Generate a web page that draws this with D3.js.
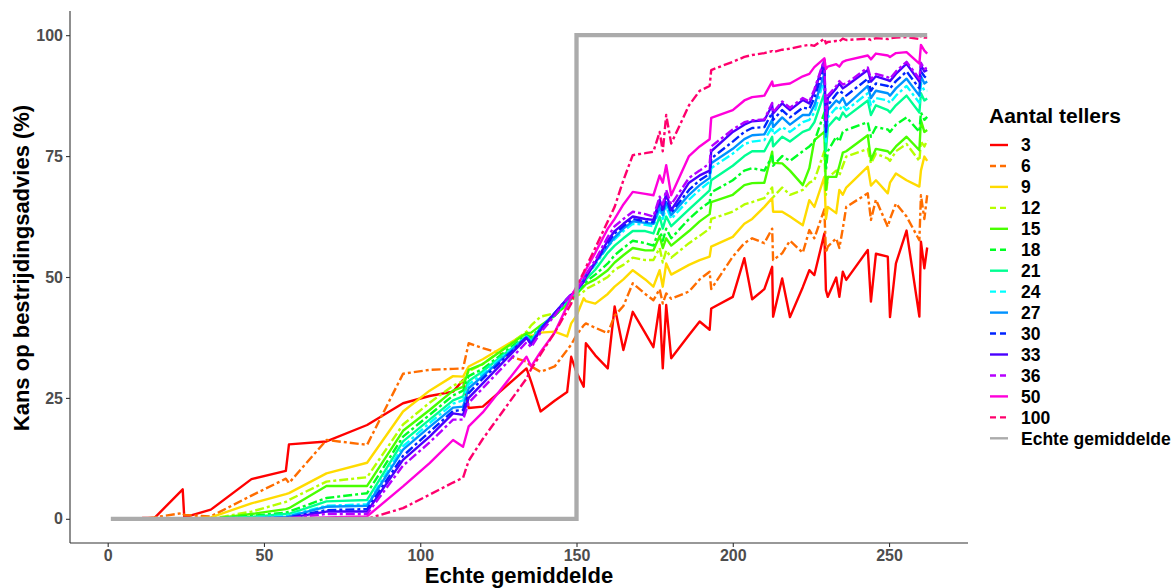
<!DOCTYPE html>
<html><head><meta charset="utf-8">
<script src="https://cdn.jsdelivr.net/npm/d3@7"></script>
<style>body{margin:0;background:#fff;} text{font-family:"Liberation Sans",Arial,sans-serif;}</style>
</head><body>
<svg id="chart" width="1172" height="588"></svg>
<script>
const xs = [11,15,24,24.5,33, 46,57,58,70,83, 94.5,103,110.5,113.7,115.5, 120,134,135.5,138.5,143, 147,148.3,150,152.3,153, 156,160,162.2,165,168, 172,174.6,176.6,177.6,178.7, 180.3,186,189.4,192.6,193.1, 200,203.7,206.2,210.1,212.6, 212.9,215.8,218.3,222.4,224.5, 226.1,229.3,229.8,230.4,233.1, 234.1,235.2,236.3,243.2,244.2, 245.8,249.6,250.3,252.2,255.6, 259.7,260.2,261.3,262.2];

const s3 = [0.2,0.2,6.1,0.3,1.9, 8.2,9.9,15.4,16,19.4, 23.9,25.4,26.3,28.7,22.9, 23.2,31.1,28.3,22.2,24.4, 26.2,33.5,30.3,27.3,36.3, 33.8,31.1,43.9,34.9,42.8, 38.4,35.5,44.2,31.1,44.2, 33.2,38,40.8,39.1,43.5, 45.9,53.9,45.4,47.5,52.1, 41.8,49.7,41.7,47.9,51.4, 50.4,59,47.3,45.9,49.9, 45.9,51.1,49.4,55.6,44.9, 54.8,54.2,41.7,52.8,59.6, 41.8,57.3,51.8,56.1];
const s6 = [0,0.3,1.2,0.8,0.5, 4.8,8.3,7.4,16.3,15.3, 30,30.8,31,31.1,36.3, 35.3,32.5,31.5,30.4,31.5, 34.9,36,38,40,40.4, 39.5,38.4,42,44,48.7, 46.5,45.2,47.5,44.5,46.6, 45.5,47,49.5,51.1,47.5, 54.2,57,58,57,60, 53.5,54.9,57.5,55,59.7, 58,64,55,56.3,58, 56,60,64.5,67.3,61.8, 66,60.4,62,65.2,62.5, 57.6,66.9,62,66.9];
const s9 = [0,0,0,0,0.3, 3.2,5.1,5.3,9.4,11.6, 22.2,26.5,29.5,29.4,31.5, 33,38.4,37.8,38.5,38.7, 37.7,40.4,42,45.6,45, 44.5,46.5,48,49.5,51.4, 49.5,48,51.4,48,52.8, 50.5,52.5,53.5,54.2,56.3, 58.3,61,62,64.5,66.3, 63.5,63.5,62.5,60.7,65.9, 64.5,70.7,62,64.5,63.2, 68,67,68.5,72.8,68.9, 70,67.3,69.5,71.4,70, 68.7,72,74.9,74];
const s12 = [0,0,0,0,0, 1.5,3.5,3.9,7.7,8.6, 19.5,24,27.5,28.5,30.5, 32,38.7,40,41.8,42.5, 44,45,46,47,47.5, 48.5,50,51.5,52.5,54, 53.5,53.5,56,53,55.5, 54,57,58.5,60,62, 63.5,65,65.5,66.3,68.5, 66.5,68.5,67,68,69.5, 70,76,67,70.5,72, 71,73,74.9,76.5,73.5, 75.5,74.5,74,76,77.5, 74,78,77,78.3];
const s15 = [0,0,0,0,0, 1,2,2.2,6.8,6.8, 18.2,22.5,26.5,27.3,30.8, 32,38.4,38.5,40,42, 44.5,45.5,46.5,48,48.5, 49.5,51.4,53,54.5,56, 55.5,55.5,58.5,56,58, 56.5,59.5,61.5,63,65.5, 67,69,69.4,69.5,75.9, 73.6,73.5,72,69,72.5, 78.3,80,68,70.7,70.7, 73,75.7,76,79.3,74.2, 76.5,76,75.5,77,79, 76.2,82.4,80,80.4];
const s18 = [0,0,0,0,0, 0.6,1.3,1.5,4.3,5.3, 17,21.5,25.5,26.5,29.5, 31,38,37.5,39.5,42, 44.5,45.5,46.5,48.5,49, 50.5,52.8,54.5,56,57.5, 57,56.5,60,57.5,60, 58,62,64,65.5,67.5, 70,72,72.5,72,75, 73,75,74,76,77, 78,84,72,76,79, 78,80,80.4,82,79, 81,80.5,80,81.5,83, 80,84,82.5,83.1];
const s21 = [0,0,0,0,0, 0.4,1,1,3.6,3.9, 16,20.5,24.5,25.3,28.5, 30.5,37.7,37,39.5,42.3, 45,46,46.8,49,49.5, 51.5,55,56.5,58,59.5, 59.5,59,62.5,60,62.5, 60.5,64,66,67.9,70, 73,75,76,76,79, 77,79,78,80,80.5, 82,88,76,81,83, 82.5,84,83.1,86.5,83.5, 85.5,84.5,84,85.5,87.5, 84,88,86.5,86.9];
const s24 = [0,0,0,0,0, 0.2,0.6,0.7,2.7,3, 15,19.8,23.8,24.5,27.8, 30,37.7,36.8,39.5,42.5, 45.2,46.2,47,49.5,50.2, 52.5,56.3,57.8,59.5,61, 60.8,60.5,64,62,64.5, 62,66,68,69.7,72.5, 75.5,77.5,78,78.3,81, 79.5,81,80,82,82.5, 84,91,78,83,85, 84.5,85.5,84.5,88,85.5, 87,86.5,86,87.5,89.5, 86,90,88.5,88.5];
const s27 = [0,0,0,0,0, 0.1,0.4,0.5,2.5,2.7, 14.3,19,23,23.2,27, 29.5,37.6,36.5,39.5,42.5, 45.5,46.3,47,49.5,50.5, 53,56.3,58.2,60,61.5, 61.2,61,64.5,62.8,65.5, 62.8,67,69,70.5,73.5, 76.5,78.5,79.3,79.5,82.5, 81,83,81.5,83.5,83.5, 85.5,92,79,84.5,86.5, 86,87,85.5,89.5,87, 88.5,88,87.5,89,91, 87.5,91.5,90,90.4];
const s30 = [0,0,0,0,0, 0,0.2,0.3,1.8,2, 13,18,22.3,22.5,26, 29,37.5,36.2,39.2,42.5, 45.5,46.3,47.2,49.2,50.3, 53,57,59,60.5,62, 61.5,61.3,65.5,63.5,66.5, 63.3,68,70,71.3,74.5, 78,80,80.8,81,84, 82.5,84.5,83,85,84.8, 87,93.5,80,85.5,87.8, 88.5,88,87.5,91,88.5, 90,89.5,89,90.5,92.5, 89,92.5,91.5,91];
const s33 = [0,0,0,0,0, 0,0.1,0.2,1.5,1.5, 12.2,17,21.8,21.5,25, 28,37.4,36,39,42.5, 45.5,46.3,47.3,49,50, 53,57.5,59.5,61,62.5, 62,61.8,66,64,67.3, 63.8,69.5,71,72,76, 80,81.5,82.2,82.4,85.5, 83.8,85.9,84.5,86.6,85.9, 88.3,94.8,81,87,89, 90,89,89.5,92.8,90.4, 91.5,90.7,90.5,92,94.1, 90.4,93.8,92.5,92.8];
const s36 = [0,0,0,0,0, 0,0,0.1,1,1, 11,15.8,20.5,20.5,24, 27,36.5,35.5,38.5,42, 45.5,46.5,47.3,49.5,50.5, 53.5,58.3,60.5,62,63.5, 63,62.5,66.6,65,68, 65,70.5,72,73.5,77, 80.5,82,82.4,82.6,86, 84,86.3,85,87,86.3, 88.8,95,82,87.5,89.5, 90.5,89.8,90,93.3,91, 92,91.3,91,92.5,94.5, 91,94.3,93,93.3];
const s50 = [0,0,0,0,0, 0,0,0.1,0.3,0.5, 6.7,11.5,16.3,14.9,19.1, 22,33.5,31.5,34.5,38.5, 44,45.9,48,50.5,51.5, 55,60,62,65,67.6, 67.2,66.9,71,69.5,73.1, 66.9,75,77,78.5,82.9, 84.5,86.5,87.2,87.5,90.4, 89.5,89.8,90,91.5,92, 93.4,95.2,93,93.5,94, 93.5,94.5,94.8,95.8,95, 96.2,95.8,95.5,96.3,96.5, 94.1,98,96.8,96.2];
const s100 = [0,0,0,0,0, 0,0,0,0,0, 2.2,5,7.5,8.5,12, 16.5,29,31,34,38.5, 43,44.5,48,51,52, 56,61.5,64.5,70,75.2, 75.6,75.9,80,76,83.5, 77.6,85.5,88.5,89.5,92.8, 94.5,95.5,95.9,96.3,96.7, 96.5,97,97.2,97.8,98, 97.8,99.3,98.3,98.6,98.8, 98.7,99.3,99,99.3,99, 99.4,99.2,99.4,99.5,99.6, 99.2,100,99.5,99.5];

const seriesNames = ["3","6","9","12","15","18","21","24","27","30","33","36","50","100"];
const seriesValues = [s3,s6,s9,s12,s15,s18,s21,s24,s27,s30,s33,s36,s50,s100];
const seriesColors = ["#FF0000","#FF6D00","#FFDB00","#B6FF00","#49FF00","#00FF24","#00FF92","#00FFFF","#0092FF","#0024FF","#4900FF","#B600FF","#FF00DB","#FF006D"];
const seriesDashed = [false,true,false,true,false,true,false,true,false,true,false,true,false,true];

const trueX = [1,150,150,262.2];
const trueY = [0,0,100,100];
const trueName = "Echte gemiddelde";

const xTicks = [0,50,100,150,200,250];
const yTicks = [0,25,50,75,100];

const svg = d3.select("#chart");
const L = 70, R = 968, T = 11, B = 543;
const xMin = 1, xMax = 262.2, xPad = (xMax - xMin) * 0.05;
const x = d3.scaleLinear().domain([xMin - xPad, xMax + xPad]).range([L, R]);
const y = d3.scaleLinear().domain([-5, 105]).range([B, T]);

const dashArr = "3,3,9,3";
const line = d3.line().x(d => x(d[0])).y(d => y(d[1]));

const g = svg.append("g");
seriesValues.forEach((vals, i) => {
  g.append("path")
    .datum(xs.map((xv, j) => [xv, vals[j]]))
    .attr("d", line)
    .attr("fill", "none")
    .attr("stroke", seriesColors[i])
    .attr("stroke-width", 2.4)
    .attr("stroke-linejoin", "round")
    .attr("stroke-dasharray", seriesDashed[i] ? dashArr : null);
});
g.append("path")
  .datum(trueX.map((xv, j) => [xv, trueY[j]]))
  .attr("d", line)
  .attr("fill", "none")
  .attr("stroke", "#ababab")
  .attr("stroke-width", 4.3);

// axes
const xAxis = svg.append("g").attr("transform", `translate(0,${B})`)
  .call(d3.axisBottom(x).tickValues(xTicks).tickSize(4).tickPadding(3).tickSizeOuter(0));
const yAxis = svg.append("g").attr("transform", `translate(${L},0)`)
  .call(d3.axisLeft(y).tickValues(yTicks).tickSize(4).tickPadding(3).tickSizeOuter(0));
[xAxis, yAxis].forEach(a => {
  a.select(".domain").attr("stroke", "#333").attr("stroke-width", 1.1);
  a.selectAll(".tick line").attr("stroke", "#333").attr("stroke-width", 1.1);
  a.selectAll(".tick text").attr("fill", "#4d4d4d").attr("font-size", 16).attr("font-weight", "bold")
    .attr("font-family", '"Liberation Sans",Arial,sans-serif');
});
xAxis.select(".domain").attr("d", `M${L},0H${R}`);
yAxis.select(".domain").attr("d", `M0,${T}V${B}`);

svg.append("text").attr("x", (L + R) / 2).attr("y", 582.5).attr("text-anchor", "middle")
  .attr("font-size", 22).attr("font-weight", "bold").attr("fill", "#000").text("Echte gemiddelde");
svg.append("text").attr("transform", `translate(29,268) rotate(-90)`).attr("text-anchor", "middle")
  .attr("font-size", 22).attr("font-weight", "bold").attr("fill", "#000").text("Kans op bestrijdingsadvies (%)");

// legend
const lg = svg.append("g");
lg.append("text").attr("x", 989).attr("y", 123).attr("font-size", 21).attr("font-weight", "bold").text("Aantal tellers");
const items = seriesNames.map((n, i) => ({name: n, color: seriesColors[i], dashed: seriesDashed[i]}))
  .concat([{name: trueName, color: "#ababab", dashed: false}]);
items.forEach((it, i) => {
  const yy = 145 + i * 20.95;
  lg.append("line").attr("x1", 990).attr("x2", 1008).attr("y1", yy).attr("y2", yy)
    .attr("stroke", it.color).attr("stroke-width", 2.4)
    .attr("stroke-dasharray", it.dashed ? "6,4" : null);
  lg.append("text").attr("x", 1021).attr("y", yy + 6.3).attr("font-size", 17.5).attr("font-weight", "bold")
    .attr("fill", "#000").text(it.name);
});
</script>
</body></html>
